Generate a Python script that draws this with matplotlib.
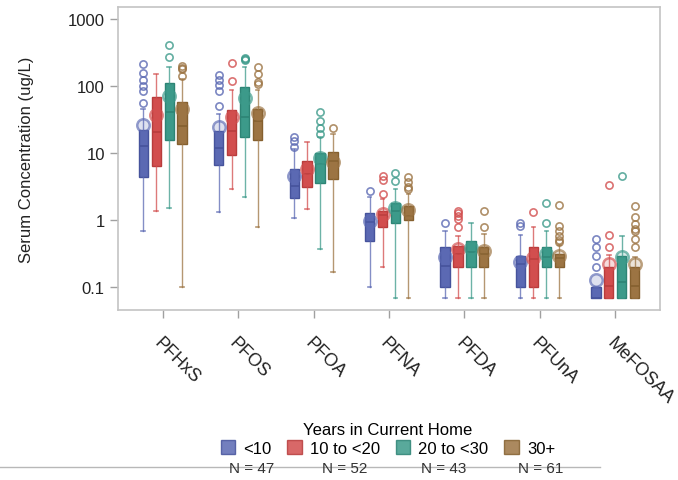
import numpy as np
import matplotlib
matplotlib.use("Agg")
import matplotlib.pyplot as plt
from matplotlib.colors import to_rgba
from matplotlib.patches import Patch
from matplotlib.lines import Line2D
from matplotlib.transforms import ScaledTranslation

plt.rcParams['font.family'] = ['Liberation Sans', 'DejaVu Sans']

compounds = ["PFHxS", "PFOS", "PFOA", "PFNA", "PFDA", "PFUnA", "MeFOSAA"]
groups = ["<10", "10 to <20", "20 to <30", "30+"]
group_n = [47, 52, 43, 61]
colors = ["#5b69b3", "#d24e4e", "#3c9a8a", "#9c7443"]
edges = ["#46539c", "#b83c3c", "#2d8475", "#85602f"]

# box statistics, one row per group, one column per compound
q1 = [
    [4.33, 6.67, 2.13, 0.49, 0.10, 0.10, 0.07],
    [6.45, 9.3, 3.07, 0.79, 0.197, 0.10, 0.07],
    [15.7, 17.1, 3.56, 0.90, 0.197, 0.197, 0.07],
    [13.6, 15.7, 4.08, 1.0, 0.197, 0.197, 0.07],
]
med = [
    [12.8, 11.8, 3.18, 0.92, 0.208, 0.221, 0.07],
    [20.3, 21.4, 4.85, 1.19, 0.31, 0.262, 0.105],
    [40.3, 34.6, 6.83, 1.38, 0.33, 0.28, 0.12],
    [25.4, 30.0, 7.65, 1.16, 0.31, 0.269, 0.103],
]
q3 = [
    [22.2, 21.5, 5.75, 1.28, 0.39, 0.294, 0.10],
    [67.4, 43.6, 7.65, 1.38, 0.414, 0.39, 0.197],
    [109, 97, 9.86, 1.79, 0.49, 0.39, 0.294],
    [58, 45, 10.2, 1.63, 0.39, 0.31, 0.197],
]
whis_lo = [
    [0.69, 1.30, 1.06, 0.099, 0.07, 0.07, 0.07],
    [1.38, 2.9, 1.46, 0.197, 0.07, 0.07, 0.07],
    [1.49, 2.18, 0.37, 0.069, 0.07, 0.07, 0.07],
    [0.10, 0.78, 0.166, 0.07, 0.07, 0.07, 0.07],
]
whis_hi = [
    [45, 38, 11.4, 2.2, 0.69, 0.60, 0.10],
    [150, 87.5, 14.7, 2.06, 0.58, 0.78, 0.30],
    [191, 190, 17.1, 2.85, 0.90, 0.69, 0.58],
    [125, 87.5, 19, 2.44, 0.62, 0.42, 0.28],
]
means = [
    [26.1, 24, 4.48, 0.96, 0.278, 0.234, 0.129],
    [36.7, 34, 5.75, 1.22, 0.37, 0.27, 0.221],
    [69.7, 65, 8.3, 1.51, 0.38, 0.31, 0.28],
    [45, 38.9, 7.4, 1.41, 0.35, 0.294, 0.22],
]
outliers = [
    [[211, 154, 123, 100, 83, 55], [145, 123, 103, 83, 50.5], [17.4, 15.2, 12.4],
     [2.71], [0.90], [0.90, 0.81], [0.52, 0.39, 0.294, 0.197]],
    [[], [219, 119], [], [4.48, 3.99, 2.4], [1.38, 1.27, 1.16, 1.03, 0.78],
     [1.30], [3.32, 0.60, 0.39]],
    [[405, 266], [260, 250, 240], [41, 30.2, 23.3, 19.1], [5.0, 3.79], [],
     [1.79, 0.90], [4.57]],
    [[195, 185, 175, 140], [190, 150, 115, 105], [23.3], [4.33, 3.65, 3.07, 2.9],
     [1.38, 0.78], [1.67, 0.82, 0.69, 0.57, 0.51, 0.47],
     [1.6, 1.1, 0.87, 0.73, 0.69, 0.52, 0.39]],
]

fig = plt.figure(figsize=(6.78, 4.81), dpi=100)
ax = fig.add_axes([118/678, 1-311/481, (660-118)/678, (311-8)/481])

x = np.arange(1, len(compounds) + 1)
offsets = [-0.258, -0.086, 0.086, 0.258]

for g in range(len(groups)):
    stats = []
    for c in range(len(compounds)):
        stats.append(dict(q1=q1[g][c], med=med[g][c], q3=q3[g][c],
                          whislo=whis_lo[g][c], whishi=whis_hi[g][c],
                          mean=means[g][c], fliers=outliers[g][c]))
    col = colors[g]
    ax.bxp(stats, positions=x + offsets[g], widths=0.12, capwidths=0.05,
           patch_artist=True, showmeans=True, manage_ticks=False,
           boxprops=dict(facecolor=col, edgecolor=edges[g], linewidth=1.0),
           medianprops=dict(color=edges[g], linewidth=1.2),
           whiskerprops=dict(color=col, linewidth=1.0, alpha=0.75),
           capprops=dict(color=col, linewidth=1.2, alpha=0.75),
           meanprops=dict(marker='o', markersize=9,
                          markerfacecolor=to_rgba(col, 0.2),
                          markeredgecolor=to_rgba(col, 0.65),
                          markeredgewidth=1.8),
           flierprops=dict(marker='o', markersize=5.2, markerfacecolor='none',
                           markeredgecolor=col, markeredgewidth=1.2, alpha=0.8))

ax.set_yscale('log')
ax.set_ylim(0.0456, 1494)
ax.set_xlim(0.41, 7.59)
ax.set_yticks([0.1, 1, 10, 100, 1000])
ax.set_yticklabels(['0.1', '1', '10', '100', '1000'])
ax.yaxis.set_minor_locator(matplotlib.ticker.NullLocator())
ax.set_xticks(x)
ax.set_xticklabels(compounds, rotation=-45, rotation_mode='anchor',
                   ha='left', va='top', fontsize=13)
shift = ScaledTranslation(-3/100, 0, fig.dpi_scale_trans)
for lbl in ax.get_xticklabels():
    lbl.set_transform(lbl.get_transform() + shift)
ax.tick_params(axis='both', colors='#a0a0a0', labelcolor='#222222',
               length=6, width=1)
ax.tick_params(axis='y', labelsize=12)
ax.tick_params(axis='x', pad=11)
for s in ax.spines.values():
    s.set_color('#c4c4c4')
    s.set_linewidth(1.2)
ax.set_ylabel("Serum Concentration (ug/L)", fontsize=12, color='#222222')
ax.yaxis.set_label_coords(-0.155, 0.5)

handles = [Patch(facecolor=colors[g], edgecolor=edges[g], alpha=0.85)
           for g in range(len(groups))]
leg = fig.legend(handles, groups, loc='center', ncol=4,
                 bbox_to_anchor=(388/678, 1-440/481), frameon=False,
                 title="Years in Current Home", fontsize=12, title_fontsize=12,
                 handlelength=0.85, handleheight=0.85, handletextpad=0.5,
                 columnspacing=0.95, borderpad=0.2, labelspacing=0.2)

fig.add_artist(Line2D([0, 600/678], [1-467.5/481, 1-467.5/481],
                      color='#b8b8b8', linewidth=1.0))
n_x = [251.7, 345, 443.3, 540.7]
for xi, n in zip(n_x, group_n):
    fig.text(xi/678, 1-469/481, f"N = {n}", ha='center', va='center',
             fontsize=11, color='#333333')

fig.savefig("out.png", dpi=100)
